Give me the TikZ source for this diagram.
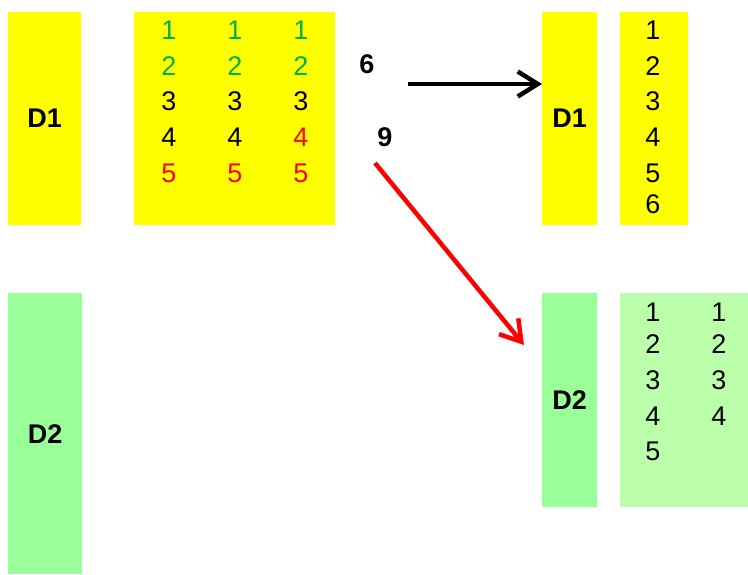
\documentclass[tikz,border=0pt]{standalone}
\usepackage{fontspec}
\setmainfont{Liberation Sans}
\usetikzlibrary{arrows.meta}
\definecolor{dyellow}{RGB}{255,255,0}
\definecolor{dgreen}{RGB}{153,255,153}
\definecolor{dlight}{RGB}{187,255,170}
\definecolor{ngreen}{RGB}{0,176,80}
\tikzset{
	disk/.style={inner sep=0pt, anchor=north west, font=\fontsize{27}{30}\selectfont\bfseries},
	num/.style={inner sep=0pt, font=\fontsize{27}{30}\selectfont},
}
\begin{document}
\begin{tikzpicture}[x=1pt, y=-1pt, >={Straight Barb[length=20pt, width=25pt]}]
	\useasboundingbox (0,0) rectangle (748,574);

	\node [disk, fill=dyellow, minimum width=73pt, minimum height=213pt] (d1a) at (8,12) {D1};
	\node [disk, fill=dyellow, minimum width=201pt, minimum height=213pt] (blk) at (134,12) {};
	\node [disk, fill=dgreen, minimum width=74pt, minimum height=281pt] (d2a) at (8,293) {D2};

	\node [disk, fill=dyellow, minimum width=55pt, minimum height=213pt] (d1b) at (542,12) {D1};
	\node [disk, fill=dyellow, minimum width=68pt, minimum height=213pt] (col1) at (620,12) {};
	\node [disk, fill=dgreen, minimum width=55pt, minimum height=214pt] (d2b) at (542,293) {D2};
	\node [disk, fill=dlight, minimum width=128pt, minimum height=214pt] (col2) at (620,293) {};

	\node [num, text=ngreen] (a1) at (169,30) {1};
	\node [num, text=ngreen] (b1) at (235,30) {1};
	\node [num, text=ngreen] (c1) at (301,30) {1};
	\node [num, text=ngreen] (a2) at (169,66) {2};
	\node [num, text=ngreen] (b2) at (235,66) {2};
	\node [num, text=ngreen] (c2) at (301,66) {2};
	\node [num] (a3) at (169,101) {3};
	\node [num] (b3) at (235,101) {3};
	\node [num] (c3) at (301,101) {3};
	\node [num] (a4) at (169,137) {4};
	\node [num] (b4) at (235,137) {4};
	\node [num, text=red] (c4) at (301,137) {4};
	\node [num, text=red] (a5) at (169,173) {5};
	\node [num, text=red] (b5) at (235,173) {5};
	\node [num, text=red] (c5) at (301,173) {5};

	\node [num, font=\fontsize{27}{30}\selectfont\bfseries] (six) at (367,64) {6};
	\node [num, font=\fontsize{27}{30}\selectfont\bfseries] (nine) at (385,137) {9};

	\node [num] (r1) at (653,30) {1};
	\node [num] (r2) at (653,66) {2};
	\node [num] (r3) at (653,101) {3};
	\node [num] (r4) at (653,137) {4};
	\node [num] (r5) at (653,173) {5};
	\node [num] (r6) at (653,204) {6};

	\node [num] (s1) at (653,312) {1};
	\node [num] (t1) at (719,312) {1};
	\node [num] (s2) at (653,344) {2};
	\node [num] (t2) at (719,344) {2};
	\node [num] (s3) at (653,380) {3};
	\node [num] (t3) at (719,380) {3};
	\node [num] (s4) at (653,416) {4};
	\node [num] (t4) at (719,416) {4};
	\node [num] (s5) at (653,451) {5};

	\coordinate (sixout) at (408,84);
	\coordinate (nineout) at (375,163);
	\coordinate (nineto) at (524,345);

	\draw[->, line width=4.5pt] (sixout) -- (sixout -| d1b.west);
	\draw[->, red, line width=4.5pt] (nineout) -- (nineto);
\end{tikzpicture}
\end{document}
